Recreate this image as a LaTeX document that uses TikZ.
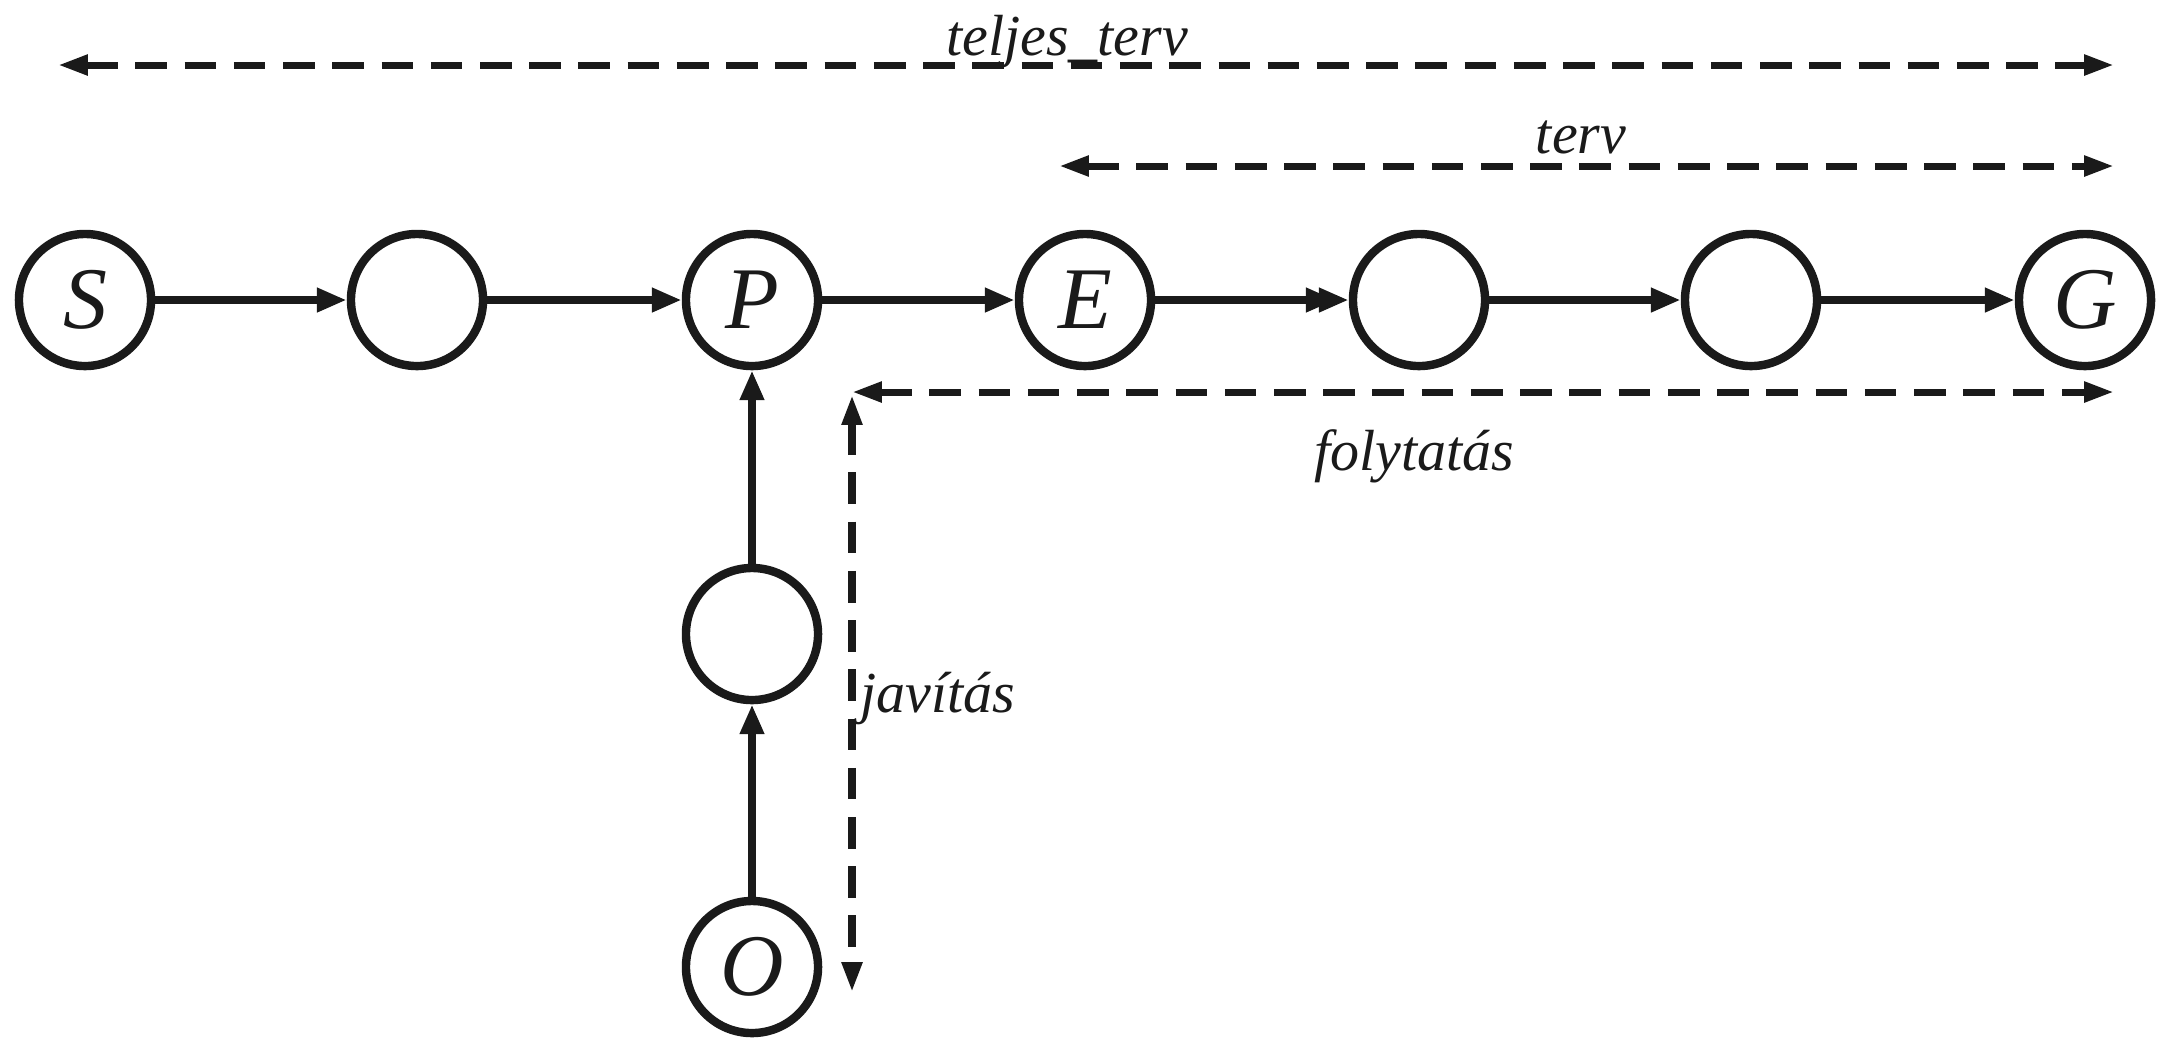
\documentclass[tikz,border=0pt]{standalone}
\usepackage{fontspec}
\setmainfont{Liberation Serif}
\usetikzlibrary{arrows.meta}
\definecolor{ink}{RGB}{26,26,26}
\begin{document}
\begin{tikzpicture}[x=0.01cm,y=-0.01cm,
  state/.style={circle,draw=ink,line width=2.4pt,minimum size=1.32cm,inner sep=0pt,
    font=\fontsize{25}{25}\selectfont\itshape,text=ink},
  edge/.style={draw=ink,line width=2.3pt,-{Triangle[length=8.5pt,width=6.5pt]}},
  dedge/.style={draw=ink,line width=2.3pt,
    -{Triangle[length=8.5pt,width=6.5pt,sep=-4.8pt]Triangle[length=8.5pt,width=6.5pt]}},
  span/.style={draw=ink,line width=2pt,dash pattern=on 9pt off 5pt,
    {Triangle[length=8.5pt,width=5.5pt]}-{Triangle[length=8.5pt,width=5.5pt]}},
  lbl/.style={font=\fontsize{16.5}{16.5}\selectfont\itshape,text=ink,inner sep=0pt}]
\useasboundingbox (0,0) rectangle (2167,1050);
% states
\node[state] (S)  at (85,300)   {S};
\node[state] (n2) at (417,300)  {};
\node[state] (P)  at (752,300)  {P};
\node[state] (E)  at (1085,300) {E};
\node[state] (n5) at (1419,300) {};
\node[state] (n6) at (1751,300) {};
\node[state] (G)  at (2085,300) {G};
\node[state] (nv) at (752,634)  {};
\node[state] (O)  at (752,967)  {O};
% edges
\draw[edge] (S) -- (n2);
\draw[edge] (n2) -- (P);
\draw[edge] (P) -- (E);
\draw[dedge] (E) -- (n5);
\draw[edge] (n5) -- (n6);
\draw[edge] (n6) -- (G);
\draw[edge] (nv) -- (P);
\draw[edge] (O) -- (nv);
% spans
\coordinate (tl) at (58,65);
\coordinate (tr) at (2114,65);
\coordinate (pl) at (1059,166);
\coordinate (pr) at (2114,166);
\coordinate (fl) at (852,392);
\coordinate (fr) at (2114,392);
\coordinate (jt) at (852,395);
\coordinate (jb) at (852,992);
\draw[span] (tl) -- (tr);
\draw[span] (pl) -- (pr);
\draw[span] (fl) -- (fr);
\draw[span] (jt) -- (jb);
% labels
\node[lbl,anchor=base] (lt) at (1067,55) {teljes\_terv};
\node[lbl,anchor=base] (lp) at (1581,153) {terv};
\node[lbl,anchor=base] (lf) at (1414,470) {folytatás};
\node[lbl,anchor=base west] (lj) at (860,712) {javítás};
\end{tikzpicture}
\end{document}
